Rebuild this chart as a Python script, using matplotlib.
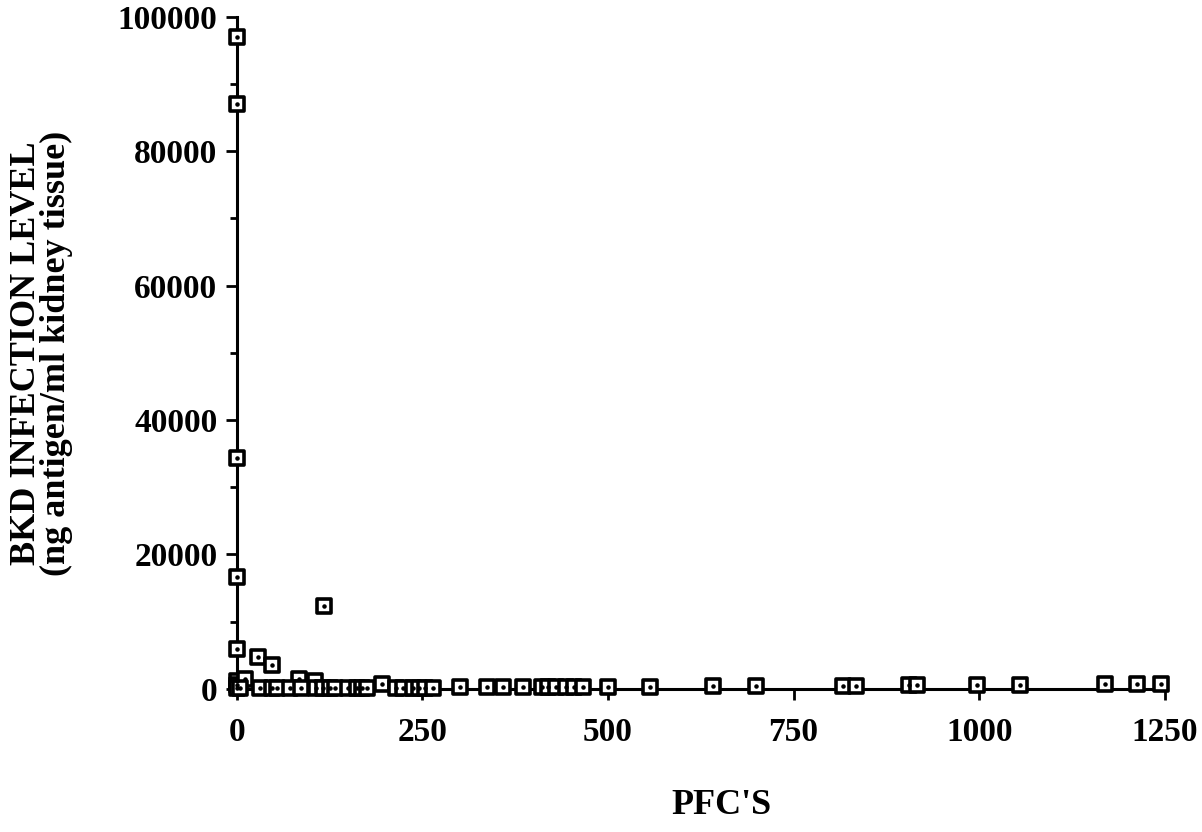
import numpy as np
import matplotlib
matplotlib.use("Agg")
import matplotlib.pyplot as plt
from matplotlib.ticker import MultipleLocator

# PFC's (x) vs BKD infection level (y)
pfc = [0, 0, 0, 0, 0, 0, 0, 0,
       11, 28, 47, 84, 105, 118, 195,
       4, 31, 47, 54, 71, 87, 107, 116, 125, 132, 150, 162, 168, 176,
       215, 224, 237, 246, 253, 264, 300, 337, 358, 385,
       411, 419, 430, 444, 454, 466, 500, 556, 641, 699,
       816, 834, 906, 916, 997, 1055, 1169, 1212, 1245]
bkd = [97000, 87000, 34300, 16700, 6000, 1200, 600, 200,
       1500, 4800, 3600, 1400, 1200, 12300, 700,
       150, 150, 150, 150, 150, 150, 150, 150, 150, 150, 150, 150, 150, 150,
       200, 200, 200, 200, 200, 200, 250, 250, 250, 300,
       300, 300, 300, 300, 300, 300, 350, 350, 400, 450,
       500, 500, 550, 550, 600, 650, 700, 750, 750]

x_ticks = [0, 250, 500, 750, 1000, 1250]
y_ticks = [0, 20000, 40000, 60000, 80000, 100000]

plt.rcParams['font.family'] = ['Liberation Serif', 'DejaVu Serif']
plt.rcParams['font.weight'] = 'bold'

fig = plt.figure(figsize=(12.02, 8.32), dpi=100)
ax = fig.add_axes([0.197, 0.172, 0.772, 0.808])

ax.scatter(pfc, bkd, marker='s', s=95, facecolors='white', edgecolors='black',
           linewidths=2.6, clip_on=False, zorder=3)
ax.scatter(pfc, bkd, marker='o', s=5, color='black', clip_on=False, zorder=4)

ax.set_xlim(0, 1250)
ax.set_ylim(0, 100000)
ax.set_xticks(x_ticks)
ax.set_yticks(y_ticks)
ax.yaxis.set_minor_locator(MultipleLocator(10000))
ax.tick_params(axis='both', which='major', direction='out', length=8, width=2,
               labelsize=24)
ax.tick_params(axis='x', which='major', pad=12)
ax.tick_params(axis='y', which='major', pad=6)
ax.tick_params(axis='y', which='minor', direction='out', length=5, width=2)

for side in ['top', 'right']:
    ax.spines[side].set_visible(False)
for side in ['left', 'bottom']:
    ax.spines[side].set_linewidth(2.2)

for lab in ax.get_xticklabels() + ax.get_yticklabels():
    lab.set_fontweight('bold')

fig.text(0.022, 0.575, "BKD INFECTION LEVEL", rotation=90, fontsize=26,
         fontweight='bold', ha='center', va='center')
fig.text(0.047, 0.575, "(ng antigen/ml kidney tissue)", rotation=90, fontsize=26,
         fontweight='bold', ha='center', va='center')
fig.text(0.600, 0.032, "PFC'S", fontsize=26, fontweight='bold',
         ha='center', va='center')

fig.savefig("out.png", dpi=100)
